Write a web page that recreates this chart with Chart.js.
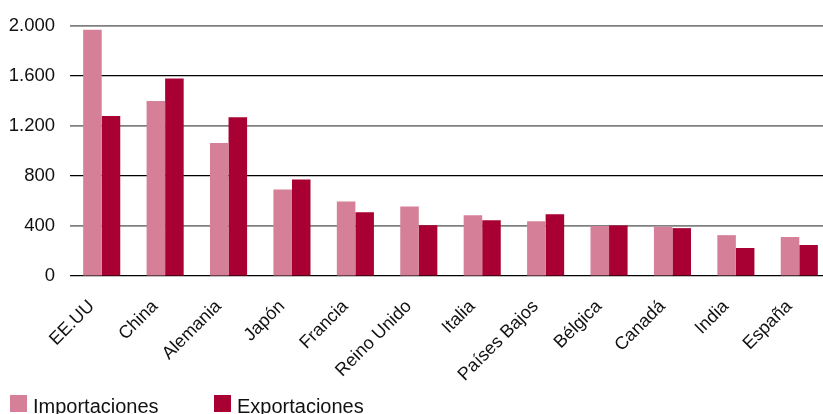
<!DOCTYPE html>
<html>
<head>
<meta charset="utf-8">
<script src="https://cdn.jsdelivr.net/npm/chart.js@4/dist/chart.umd.min.js"></script>
<style>
  html, body { margin: 0; padding: 0; background: #fff; overflow: hidden; }
  #wrap { width: 831px; height: 414px; }
</style>
</head>
<body>
<div id="wrap"><canvas id="chart" width="831" height="414"></canvas></div>
<script>
// --- DATA ---
const countries = ['EE.UU', 'China', 'Alemania', 'Japón', 'Francia', 'Reino Unido',
                   'Italia', 'Países Bajos', 'Bélgica', 'Canadá', 'India', 'España'];
const importaciones = [1970, 1400, 1065, 692, 597, 557, 486, 438, 400, 394, 327, 312];
const exportaciones = [1280, 1580, 1270, 772, 510, 407, 446, 494, 405, 383, 224, 248];
const yTicks = [0, 400, 800, 1200, 1600, 2000];

const seriesNames = ['Importaciones', 'Exportaciones'];
const seriesColors = ['#d58098', '#a80032'];

const FONT = '"Liberation Sans", Arial, sans-serif';

// thousands with a dot, e.g. 2.000
function fmt(v) {
    return v.toString().replace(/\B(?=(\d{3})+(?!\d))/g, '.');
}

// --- LEGEND (drawn by hand, bottom left) ---
const bottomLegend = {
    id: 'bottomLegend',
    afterDraw(chart) {
        const ctx = chart.ctx;
        const xs = [10, 214];
        ctx.save();
        ctx.font = '20px ' + FONT;
        ctx.textBaseline = 'alphabetic';
        ctx.textAlign = 'left';
        seriesNames.forEach((name, i) => {
            ctx.fillStyle = seriesColors[i];
            ctx.fillRect(xs[i], 395, 17, 17);
            ctx.fillStyle = '#111';
            ctx.fillText(name, xs[i] + 23, 413);
        });
        ctx.restore();
    }
};

new Chart(document.getElementById('chart'), {
    type: 'bar',
    data: {
        labels: countries,
        datasets: [
            { label: seriesNames[0], data: importaciones, backgroundColor: seriesColors[0] },
            { label: seriesNames[1], data: exportaciones, backgroundColor: seriesColors[1] }
        ]
    },
    options: {
        responsive: false,
        animation: false,
        layout: { padding: { top: 24, right: 0, bottom: 0, left: 0 } },
        datasets: { bar: { barPercentage: 1, categoryPercentage: 0.585 } },
        plugins: { legend: { display: false }, tooltip: { enabled: false } },
        scales: {
            x: {
                grid: { display: false },
                border: { display: false },
                ticks: {
                    font: { family: FONT, size: 18 },
                    color: '#111',
                    maxRotation: 45,
                    minRotation: 45,
                    padding: 12,
                    labelOffset: -10
                },
                afterFit(scale) { scale.height = 138; }
            },
            y: {
                min: 0,
                max: 2000,
                afterBuildTicks(scale) { scale.ticks = yTicks.map(v => ({ value: v })); },
                grid: {
                    drawTicks: false,
                    color: ctx => (ctx.index % 2 === 0 ? '#000' : '#808080'),
                    lineWidth: ctx => (ctx.index % 2 === 0 ? 1.2 : 1.8)
                },
                border: { display: false },
                ticks: {
                    font: { family: FONT, size: 18.5 },
                    color: '#111',
                    padding: 15,
                    callback: v => fmt(v)
                },
                afterFit(scale) { scale.width = 70; }
            }
        }
    },
    plugins: [bottomLegend]
});
</script>
</body>
</html>
